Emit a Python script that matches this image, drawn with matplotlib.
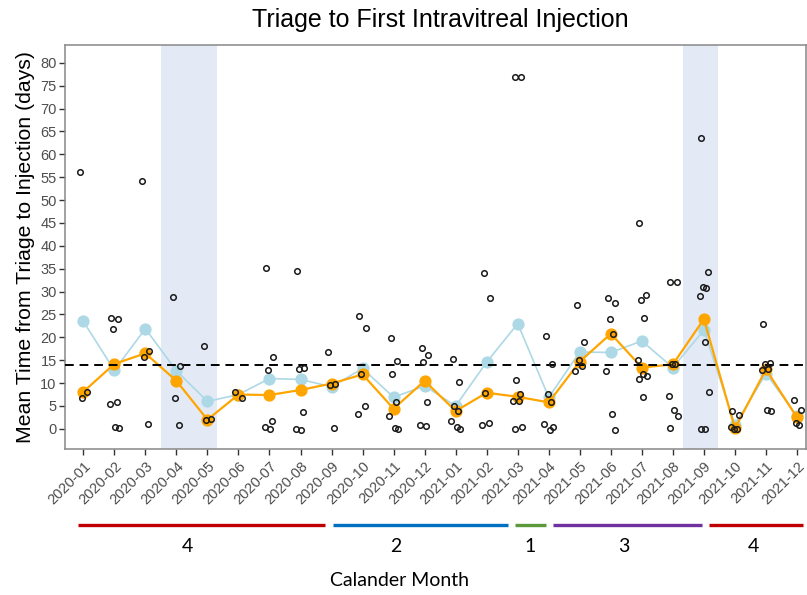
import matplotlib
matplotlib.use("Agg")
import matplotlib.pyplot as plt
from matplotlib.transforms import blended_transform_factory
import numpy as np

# ---------------- data ----------------
months = ["2020-01", "2020-02", "2020-03", "2020-04", "2020-05", "2020-06",
          "2020-07", "2020-08", "2020-09", "2020-10", "2020-11", "2020-12",
          "2021-01", "2021-02", "2021-03", "2021-04", "2021-05", "2021-06",
          "2021-07", "2021-08", "2021-09", "2021-10", "2021-11", "2021-12"]

mean_days = [23.5, 12.8, 21.9, 12.7, 6.0, 7.5, 11.0, 10.8, 9.2, 13.2, 6.9, 9.4,
             5.0, 14.6, 23.0, 6.9, 16.8, 16.7, 19.2, 13.4, 21.6, 0.9, 12.1, 2.8]

median_days = [8.1, 14.2, 16.5, 10.5, 2.0, 7.5, 7.4, 8.5, 9.9, 11.9, 4.4, 10.5,
               3.9, 7.9, 7.0, 5.8, 14.7, 20.8, 13.4, 14.1, 24.0, 0.1, 13.0, 2.5]

patient_days = [
    [56.2, 8.1, 6.7],
    [24.2, 24.0, 21.9, 5.8, 5.4, 0.3, 0.2],
    [54.1, 17.0, 15.7, 1.0],
    [28.8, 13.7, 6.8, 0.9],
    [18.2, 2.1, 2.0],
    [8.1, 6.7],
    [35.1, 15.8, 12.9, 1.7, 0.5, -0.1],
    [34.5, 13.2, 13.0, 3.7, 0.0, -0.2],
    [16.8, 9.7, 9.6, 0.1],
    [24.7, 22.1, 11.9, 5.0, 3.3],
    [19.9, 14.8, 11.9, 5.8, 2.8, 0.1, 0.0],
    [17.7, 16.2, 14.6, 5.9, 0.8, 0.7],
    [15.2, 10.2, 4.9, 4.0, 1.7, 0.3, 0.0],
    [34.0, 28.7, 7.9, 1.2, 0.8],
    [77.0, 77.0, 10.7, 7.6, 6.2, 6.1, 0.5, 0.0],
    [20.2, 14.1, 7.7, 5.8, 1.0, -0.2, 0.3],
    [27.0, 18.9, 15.0, 13.8, 12.7],
    [28.5, 27.6, 24.0, 20.8, 12.6, 3.2, -0.2],
    [44.9, 29.2, 28.2, 24.3, 15.0, 12.1, 11.5, 11.0, 7.0],
    [32.2, 32.0, 14.1, 14.1, 7.2, 4.1, 2.9, 0.1],
    [63.6, 34.3, 31.0, 30.7, 29.0, 18.9, 8.1, 0.0, 0.0],
    [4.0, 3.1, 0.0, 0.0, 0.3],
    [22.9, 14.3, 14.2, 13.0, 12.9, 4.1, 3.8],
    [6.3, 4.1, 1.2, 0.9],
]

target_days = 14
group_labels = ["4", "2", "1", "3", "4"]
group_colors = ["#C00000", "#0070C0", "#5B9A3C", "#7030A0", "#C00000"]

# ---------------- layout / style ----------------
W, H = 807, 595
JITTER = [-0.10, 0.12, -0.04, 0.08, -0.14, 0.03, 0.15, -0.08, 0.05]
band_spans = [(2.50, 4.31), (19.34, 20.46)]
group_spans = [(-0.17, 7.79), (8.05, 13.69), (13.91, 14.91), (15.14, 19.94), (20.16, 23.19)]
group_label_x = [3.37, 10.08, 14.39, 17.42, 21.61]

plt.rcParams['font.family'] = ['Liberation Sans', 'DejaVu Sans']

fig = plt.figure(figsize=(W / 100, H / 100), dpi=100)
ax = fig.add_axes([65 / W, 1 - 449 / H, (806 - 65) / W, (449 - 45) / H])

x = np.arange(len(months))

for a, b in band_spans:
    ax.axvspan(a, b, color="#E3EAF6", lw=0, zorder=0)

ax.plot(x, mean_days, color="#ADD8E6", lw=1.2, marker="o", ms=7.8, mec="#ADD8E6",
        mfc="#ADD8E6", zorder=2)
ax.plot(x, median_days, color="#FFA500", lw=1.6, marker="o", ms=7.8, mec="#FFA500",
        mfc="#FFA500", zorder=3)
ax.axhline(target_days, color="black", lw=1.4, ls=(0, (4.5, 3)), zorder=4)

px, py = [], []
for i, vals in enumerate(patient_days):
    for j, v in enumerate(vals):
        px.append(i + JITTER[j % len(JITTER)])
        py.append(v)
ax.plot(px, py, ls="none", marker="o", ms=4.0, mfc="none", mec="#1a1a1a", mew=1.1, zorder=5)

ax.set_xlim(-0.59, 23.29)
ax.set_ylim(-4.4, 83.9)
ax.set_yticks(np.arange(0, 81, 5))
ax.set_xticks(x)
ax.set_xticklabels(months, rotation=45, ha="right", va="top", rotation_mode="anchor")
ax.tick_params(axis="both", colors="#333333", labelcolor="#4D4D4D", labelsize=10.5,
               length=4, width=1.0, direction="out")
ax.tick_params(axis="x", pad=3)
ax.tick_params(axis="y", pad=2)
for s in ax.spines.values():
    s.set_color("#888888")
    s.set_linewidth(1.1)

ax.set_ylabel("Mean Time from Triage to Injection (days)", fontsize=15.3, color="black", labelpad=4)

fig.text(440 / W, 1 - 20 / H, "Triage to First Intravitreal Injection", fontsize=18,
         ha="center", va="center", color="black")

trans = blended_transform_factory(ax.transData, fig.transFigure)
for (a, b), c in zip(group_spans, group_colors):
    ax.plot([a, b], [1 - 525 / H, 1 - 525 / H], color=c, lw=2.4, transform=trans,
            clip_on=False, solid_capstyle="butt")
for lx, lab in zip(group_label_x, group_labels):
    ax.text(lx, 1 - 547 / H, lab, transform=trans, ha="center", va="center",
            fontsize=14, family=["Lato", "DejaVu Sans"], color="black")

fig.text(400 / W, 1 - 581 / H, "Calander Month", fontsize=14, ha="center", va="center",
         family=["Lato", "DejaVu Sans"], color="black")

fig.savefig("out.png", dpi=100)
